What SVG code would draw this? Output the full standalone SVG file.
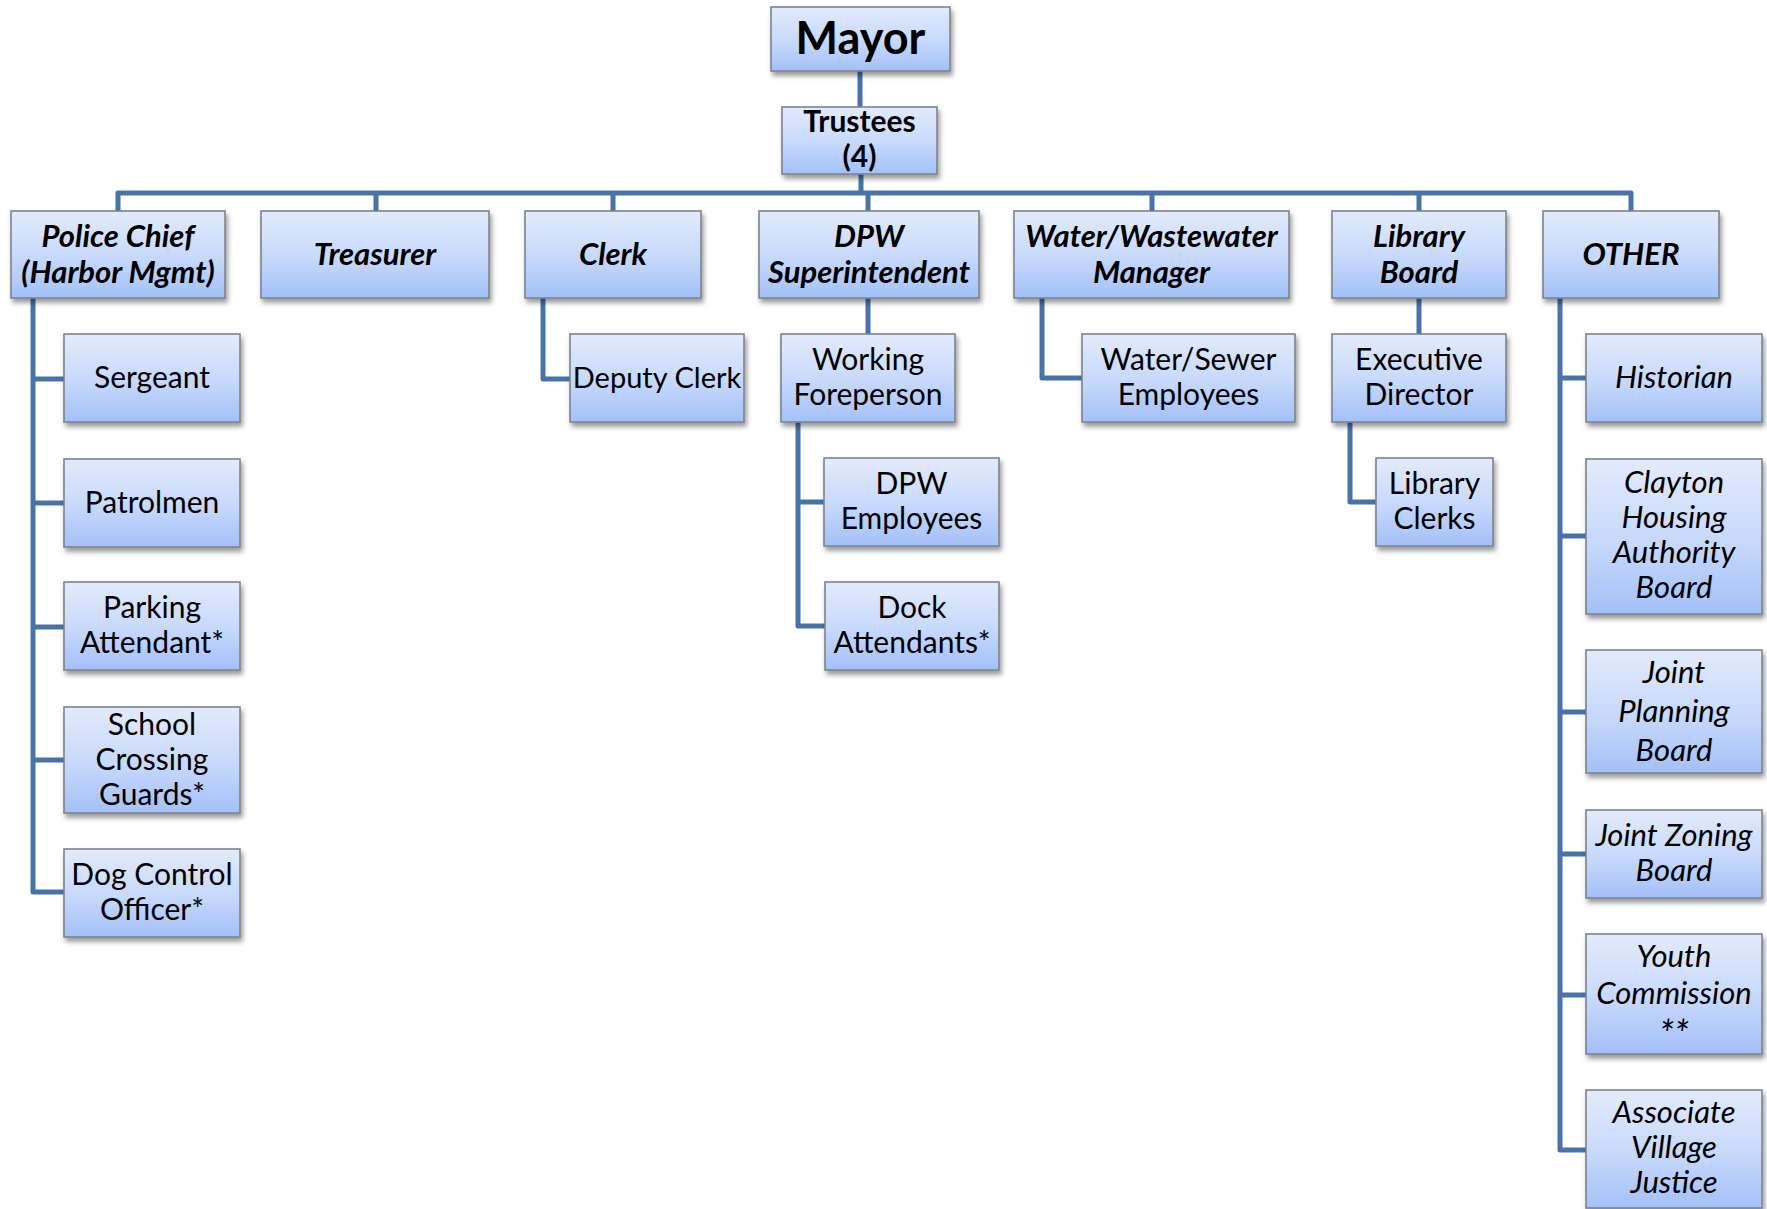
<svg xmlns="http://www.w3.org/2000/svg" width="1767" height="1209" viewBox="0 0 1767 1209">
<defs>
<linearGradient id="g" x1="0" y1="0" x2="0" y2="1">
<stop offset="0" stop-color="#e3ebfc"/>
<stop offset="0.55" stop-color="#c6d8fb"/>
<stop offset="1" stop-color="#a3c0f8"/>
</linearGradient>
<filter id="sh" x="-10%" y="-10%" width="125%" height="135%">
<feDropShadow dx="2" dy="4" stdDeviation="2.5" flood-color="#000" flood-opacity="0.4"/>
</filter>
<style>
.box{fill:url(#g);stroke:#7d838c;stroke-width:1.6;filter:url(#sh)}
text{font-family:Lato,"Open Sans","Liberation Sans",sans-serif;fill:#000;text-anchor:middle}
.top{font-size:31px;font-weight:bold;font-style:italic}
.ch{font-size:30px}
.oth{font-size:31px;font-style:italic}
.mayor{font-size:45px;font-weight:bold}
.tr{font-size:30px;font-weight:bold}
.ast{font-size:38px}
.con{fill:none;stroke:#4872a8;stroke-width:5;stroke-linejoin:round;stroke-linecap:butt}
</style>
</defs>
<rect width="1767" height="1209" fill="#fff"/>

<g id="connectors" class="con">
<path d="M860 71V107"/>
<path d="M861 174V193"/>
<path d="M118 211V193H1631V211"/>
<path d="M376 193V211M613 193V211M868 193V211M1152 193V211M1419 193V211"/>
<path d="M33 298V892H64M33 379H64M33 503H64M33 627H64M33 760H64"/>
<path d="M543 298V379H570"/>
<path d="M868 298V334"/>
<path d="M798 422V626H825M798 502H824"/>
<path d="M1042 298V378H1082"/>
<path d="M1419 298V334"/>
<path d="M1350 422V502H1376"/>
<path d="M1560 298V1150H1586M1560 378H1586M1560 536H1586M1560 712H1586M1560 854H1586M1560 995H1586"/>
</g>

<g id="mayor"><rect class="box" x="771" y="7" width="179" height="64"/><text class="mayor" x="860.5" y="54">Mayor</text></g>
<g id="trustees"><rect class="box" x="782" y="107" width="155" height="67"/><text class="tr" x="859.5"><tspan x="859.5" y="132">Trustees</tspan><tspan x="859.5" y="167">(4)</tspan></text></g>

<g id="police-chief"><rect class="box" x="11" y="211" width="214" height="87"/><text class="top"><tspan x="118" y="247">Police Chief</tspan><tspan x="118" y="283">(Harbor Mgmt)</tspan></text></g>
<g id="treasurer"><rect class="box" x="261" y="211" width="228" height="87"/><text class="top" x="375" y="265">Treasurer</text></g>
<g id="clerk"><rect class="box" x="525" y="211" width="176" height="87"/><text class="top" x="613" y="265">Clerk</text></g>
<g id="dpw-superintendent"><rect class="box" x="759" y="211" width="220" height="87"/><text class="top"><tspan x="869" y="247">DPW</tspan><tspan x="869" y="283">Superintendent</tspan></text></g>
<g id="water-manager"><rect class="box" x="1014" y="211" width="275" height="87"/><text class="top"><tspan x="1151.5" y="247">Water/Wastewater</tspan><tspan x="1151.5" y="283">Manager</tspan></text></g>
<g id="library-board"><rect class="box" x="1332" y="211" width="174" height="87"/><text class="top"><tspan x="1419" y="247">Library</tspan><tspan x="1419" y="283">Board</tspan></text></g>
<g id="other"><rect class="box" x="1543" y="211" width="176" height="87"/><text class="top" x="1631" y="265">OTHER</text></g>

<g id="sergeant"><rect class="box" x="64" y="334" width="176" height="88"/><text class="ch" x="152" y="388">Sergeant</text></g>
<g id="patrolmen"><rect class="box" x="64" y="459" width="176" height="88"/><text class="ch" x="152" y="513">Patrolmen</text></g>
<g id="parking-attendant"><rect class="box" x="64" y="582" width="176" height="88"/><text class="ch"><tspan x="152" y="618">Parking</tspan><tspan x="152" y="653">Attendant*</tspan></text></g>
<g id="school-crossing-guards"><rect class="box" x="64" y="707" width="176" height="106"/><text class="ch"><tspan x="152" y="735">School</tspan><tspan x="152" y="770">Crossing</tspan><tspan x="152" y="805">Guards*</tspan></text></g>
<g id="dog-control-officer"><rect class="box" x="64" y="849" width="176" height="88"/><text class="ch"><tspan x="152" y="885">Dog Control</tspan><tspan x="152" y="920">Officer*</tspan></text></g>

<g id="deputy-clerk"><rect class="box" x="570" y="334" width="174" height="88"/><text class="ch" x="657" y="388" style="font-size:29px">Deputy Clerk</text></g>
<g id="working-foreperson"><rect class="box" x="781" y="334" width="174" height="88"/><text class="ch"><tspan x="868" y="370">Working</tspan><tspan x="868" y="405">Foreperson</tspan></text></g>
<g id="dpw-employees"><rect class="box" x="824" y="458" width="175" height="88"/><text class="ch"><tspan x="911.5" y="494">DPW</tspan><tspan x="911.5" y="529">Employees</tspan></text></g>
<g id="dock-attendants"><rect class="box" x="825" y="582" width="174" height="88"/><text class="ch"><tspan x="912" y="618">Dock</tspan><tspan x="912" y="653">Attendants*</tspan></text></g>

<g id="water-sewer-employees"><rect class="box" x="1082" y="334" width="213" height="88"/><text class="ch"><tspan x="1188.5" y="370">Water/Sewer</tspan><tspan x="1188.5" y="405">Employees</tspan></text></g>
<g id="executive-director"><rect class="box" x="1332" y="334" width="174" height="88"/><text class="ch"><tspan x="1419" y="370">Executive</tspan><tspan x="1419" y="405">Director</tspan></text></g>
<g id="library-clerks"><rect class="box" x="1376" y="458" width="117" height="88"/><text class="ch"><tspan x="1434.5" y="494">Library</tspan><tspan x="1434.5" y="529">Clerks</tspan></text></g>

<g id="historian"><rect class="box" x="1586" y="334" width="176" height="88"/><text class="oth" x="1674" y="388">Historian</text></g>
<g id="clayton-housing"><rect class="box" x="1586" y="459" width="176" height="155"/><text class="oth"><tspan x="1674" y="493">Clayton</tspan><tspan x="1674" y="528">Housing</tspan><tspan x="1674" y="563">Authority</tspan><tspan x="1674" y="598">Board</tspan></text></g>
<g id="joint-planning"><rect class="box" x="1586" y="650" width="176" height="123"/><text class="oth"><tspan x="1674" y="683">Joint</tspan><tspan x="1674" y="722">Planning</tspan><tspan x="1674" y="761">Board</tspan></text></g>
<g id="joint-zoning"><rect class="box" x="1586" y="810" width="176" height="88"/><text class="oth"><tspan x="1674" y="846">Joint Zoning</tspan><tspan x="1674" y="881">Board</tspan></text></g>
<g id="youth-commission"><rect class="box" x="1586" y="934" width="176" height="120"/><text class="oth"><tspan x="1674" y="967">Youth</tspan><tspan x="1674" y="1004">Commission</tspan><tspan class="ast" x="1674" y="1048">**</tspan></text></g>
<g id="associate-justice"><rect class="box" x="1586" y="1090" width="176" height="118"/><text class="oth"><tspan x="1674" y="1123">Associate</tspan><tspan x="1674" y="1158">Village</tspan><tspan x="1674" y="1193">Justice</tspan></text></g>
</svg>
